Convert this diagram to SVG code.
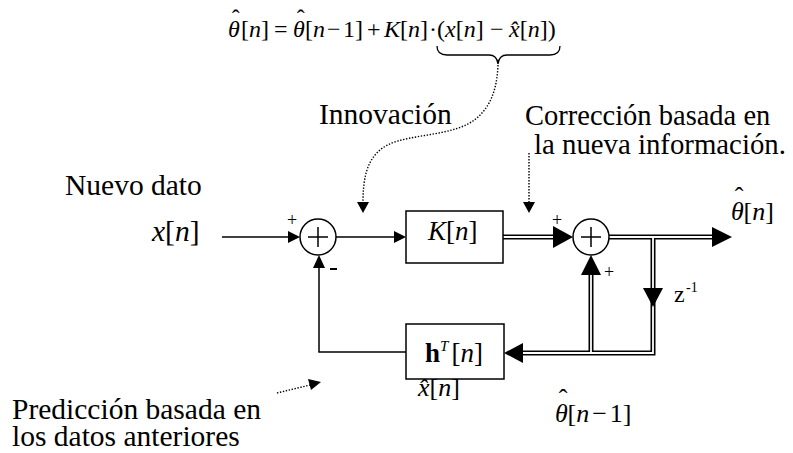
<svg xmlns="http://www.w3.org/2000/svg" width="793" height="453" viewBox="0 0 793 453" font-family="Liberation Serif, Times New Roman, serif">
<style>
text{fill:#000}
.lbl{font-size:29.5px}
.sym{font-size:26px}
.eq{font-size:24px}
.it{font-style:italic}
.thin{fill:none;stroke:#000;stroke-width:1.5}
.dblo{fill:none;stroke:#000;stroke-width:5}
.dbli{fill:none;stroke:#fff;stroke-width:1.8}
.dot{fill:none;stroke:#000;stroke-width:1.4;stroke-dasharray:1.4 1.6}
.box{fill:#fff;stroke:#000;stroke-width:1.5}
.sum{fill:#fff;stroke:#000;stroke-width:1.5}
.ah{fill:#000}
.sg{font-size:18px}
</style>
<rect width="793" height="453" fill="#fff"/>

<g id="equation">
<text class="eq" y="37"><tspan x="228" class="it">θ</tspan><tspan dx="-8" dy="-11">ˆ</tspan><tspan x="241" dy="11">[</tspan><tspan class="it">n</tspan><tspan>]</tspan><tspan x="274">=</tspan><tspan x="293" class="it">θ</tspan><tspan dx="-8" dy="-11">ˆ</tspan><tspan x="305" dy="11">[</tspan><tspan class="it">n</tspan><tspan x="327">−</tspan><tspan x="343">1]</tspan><tspan x="367">+</tspan><tspan x="384" class="it">K</tspan><tspan>[</tspan><tspan class="it">n</tspan><tspan>]</tspan><tspan x="429">·</tspan><tspan x="437">(</tspan><tspan class="it">x</tspan><tspan>[</tspan><tspan class="it">n</tspan><tspan>]</tspan><tspan x="490">−</tspan><tspan x="509" class="it">x̂</tspan><tspan>[</tspan><tspan class="it">n</tspan><tspan>])</tspan></text>
<path class="thin" style="stroke-width:1.3" d="M437,46 Q437,55 447,55 L489,55 Q497,55 498,64 Q499,55 507,55 L550,55 Q560,55 560,46"/>
</g>

<g id="connectors">
<path class="thin" d="M222,237 L289,237"/>
<path class="thin" d="M336,237 L395,237"/>
<path class="thin" d="M406,352 L319,352 L319,268"/>
<path class="dblo" d="M503,237 L554,237"/>
<path class="dbli" d="M503,237 L555,237"/>
<path class="dblo" d="M609,237 L713,237"/>
<path class="dblo" d="M653,237 L653,353 L522,353"/>
<path class="dblo" d="M591,353 L591,274"/>
<path class="dbli" d="M609,237 L714,237"/>
<path class="dbli" d="M653,237 L653,353 L521,353"/>
<path class="dbli" d="M591,353 L591,273"/>
<path class="ah" d="M300,237 L288,231 L288,243 Z"/>
<path class="ah" d="M406,237 L394,231 L394,243 Z"/>
<path class="ah" d="M319,255 L313,268 L325,268 Z"/>
<path class="ah" d="M573,237 L553,226 L553,248 Z"/>
<path class="ah" d="M732,237 L712,227 L712,247 Z"/>
<path class="ah" d="M653,307 L643,288 L663,288 Z"/>
<path class="ah" d="M504,353 L523,343 L523,363 Z"/>
<path class="ah" d="M591,255 L581,275 L601,275 Z"/>
<path class="dot" d="M498,65 C497,90 490,112 468,124 C440,138 398,134 380,150 C366,162 363,180 363,203"/>
<path class="ah" d="M363,213 L357,202 L369,202 Z"/>
<path class="dot" d="M529,153 L529,203"/>
<path class="ah" d="M529,213 L523,202 L535,202 Z"/>
<path class="dot" d="M277,393 L310,385"/>
<path class="ah" d="M321,382 L308,379 L311,390 Z"/>
</g>

<g id="sum1">
<circle class="sum" cx="318" cy="237" r="18"/>
<path class="thin" d="M308,237 L328,237 M318,227 L318,247"/>
<text class="sg" x="292" y="226" text-anchor="middle">+</text>
<path d="M330,269 L337,269" stroke="#000" stroke-width="2"/>
</g>

<g id="sum2">
<circle class="sum" cx="591" cy="237" r="18"/>
<path class="thin" d="M581,237 L601,237 M591,227 L591,247"/>
<text class="sg" x="557" y="226" text-anchor="middle">+</text>
<text class="sg" x="609" y="278" text-anchor="middle">+</text>
</g>

<g id="gain">
<rect class="box" x="406" y="211" width="97" height="52"/>
<text x="428" y="240" font-size="27"><tspan class="it">K</tspan>[<tspan class="it">n</tspan>]</text>
</g>

<g id="predictor">
<rect class="box" x="406" y="324" width="98" height="55"/>
<text x="425" y="362" font-size="27"><tspan font-weight="bold">h</tspan><tspan class="it" font-size="15" dy="-11">T</tspan><tspan dy="11" dx="3">[</tspan><tspan class="it">n</tspan>]</text>
</g>

<g id="delay">
<text x="674" y="302" font-size="24">z</text>
<text x="686" y="292" font-size="14">-1</text>
</g>

<g id="labels">
<text class="lbl" x="65" y="195">Nuevo dato</text>
<text class="lbl" x="152" y="241"><tspan class="it">x</tspan>[<tspan class="it">n</tspan>]</text>
<text class="lbl" x="319" y="124">Innovación</text>
<text x="525" y="125" font-size="28.5">Corrección basada en</text>
<text x="534" y="154" font-size="28.8">la nueva información.</text>
<text class="sym" x="731" y="220"><tspan class="it">θ</tspan><tspan dx="-9" dy="-15">ˆ</tspan><tspan dy="15">[</tspan><tspan class="it">n</tspan>]</text>
<text class="sym" x="418" y="396"><tspan class="it">x̂</tspan>[<tspan class="it">n</tspan>]</text>
<text class="sym" x="555" y="422"><tspan class="it">θ</tspan><tspan dx="-9" dy="-15">ˆ</tspan><tspan dy="15">[</tspan><tspan class="it">n</tspan><tspan dx="3">−</tspan><tspan dx="3">1</tspan>]</text>
<text class="lbl" x="12" y="419">Predicción basada en</text>
<text class="lbl" x="12" y="446">los datos anteriores</text>
</g>
</svg>
